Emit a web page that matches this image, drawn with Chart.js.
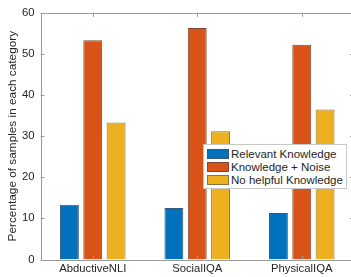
<!DOCTYPE html>
<html>
<head>
<meta charset="utf-8">
<script src="https://cdn.jsdelivr.net/npm/chart.js@4"></script>
<style>
html,body{margin:0;padding:0;background:#fff;overflow:hidden;width:351px;height:277px;}
#wrap{position:relative;width:358px;height:277px;}
#legend{position:absolute;left:203px;top:144px;width:144px;height:45px;background:#fff;border:1px solid #c8c8c8;box-sizing:border-box;font-family:"Liberation Sans",Arial,sans-serif;font-size:11.5px;color:#262626;padding-top:2px;}
#legend .row{display:flex;align-items:center;height:13.3px;}
#legend .sw{width:22px;height:10px;margin-left:3px;margin-right:2px;box-sizing:border-box;border:1px solid #555;}
</style>
</head>
<body>
<div id="wrap">
<canvas id="c" width="358" height="277"></canvas>
<div id="legend"></div>
</div>
<script>
const categories = ["AbductiveNLI", "SocialIQA", "PhysicalIQA"];
const seriesNames = ["Relevant Knowledge", "Knowledge + Noise", "No helpful Knowledge"];
const relevantKnowledge = [13.3, 12.5, 11.3];
const knowledgeNoise = [53.3, 56.3, 52.2];
const noHelpfulKnowledge = [33.3, 31.2, 36.5];
const yTicks = [0, 10, 20, 30, 40, 50, 60];

const colors = ["#0072BD", "#D95319", "#EDB120"];
const edges = ["#3a5a78", "#7a4a34", "#8a7440"];
const seriesValues = [relevantKnowledge, knowledgeNoise, noHelpfulKnowledge];

const font = "'Liberation Sans', Arial, sans-serif";
const axisColor = "#262626";
const lineColor = "#9a9a9a";

const tickPlugin = {
  id: 'matlabAxes',
  afterDatasetsDraw(chart) {
    const ctx = chart.ctx;
    const a = chart.chartArea;
    const xs = chart.scales.x, ys = chart.scales.y;
    ctx.save();
    ctx.strokeStyle = lineColor;
    ctx.lineWidth = 1;
    ctx.beginPath();
    ys.ticks.forEach(t => {
      const y = Math.round(ys.getPixelForValue(t.value)) + 0.5;
      ctx.moveTo(a.left, y); ctx.lineTo(a.left + 4, y);
      ctx.moveTo(a.right, y); ctx.lineTo(a.right - 4, y);
    });
    xs.ticks.forEach((t, i) => {
      const x = Math.round(xs.getPixelForTick(i)) + 0.5;
      ctx.moveTo(x, a.bottom); ctx.lineTo(x, a.bottom - 4);
      ctx.moveTo(x, a.top); ctx.lineTo(x, a.top + 4);
    });
    ctx.stroke();
    ctx.beginPath();
    ctx.rect(Math.round(a.left) + 0.5, Math.round(a.top) + 0.5, Math.round(a.right - a.left), Math.round(a.bottom - a.top));
    ctx.stroke();
    ctx.restore();
  }
};

new Chart(document.getElementById('c'), {
  type: 'bar',
  data: {
    labels: categories,
    datasets: seriesNames.map((n, i) => ({
      label: n,
      data: seriesValues[i],
      backgroundColor: colors[i],
      borderColor: edges[i],
      borderWidth: 1,
      categoryPercentage: 0.67,
      barPercentage: 0.81
    }))
  },
  options: {
    responsive: false,
    animation: false,
    devicePixelRatio: 1,
    layout: { padding: { top: 10, right: 4, bottom: 0, left: 0 } },
    plugins: { legend: { display: false }, tooltip: { enabled: false } },
    scales: {
      x: {
        grid: { display: false, drawTicks: false },
        border: { display: false },
        ticks: { color: axisColor, font: { family: font, size: 11.3 }, padding: 3, maxRotation: 0 },
        afterFit(s) { s.height = 17.5; }
      },
      y: {
        min: 0, max: 60,
        afterBuildTicks(s) { s.ticks = yTicks.map(v => ({ value: v })); },
        grid: { display: false, drawTicks: false },
        border: { display: false },
        ticks: { color: axisColor, font: { family: font, size: 11.3 }, padding: 6 },
        title: { display: true, text: 'Percentage of samples in each category', color: axisColor, font: { family: font, size: 11.8 }, padding: { top: 5.5, bottom: 0 } },
        afterFit(s) { s.width = 40.5; }
      }
    }
  },
  plugins: [tickPlugin]
});

const leg = document.getElementById('legend');
seriesNames.forEach((n, i) => {
  const r = document.createElement('div'); r.className = 'row';
  const sw = document.createElement('div'); sw.className = 'sw';
  sw.style.background = colors[i]; sw.style.borderColor = edges[i];
  const tx = document.createElement('span'); tx.textContent = n;
  r.appendChild(sw); r.appendChild(tx); leg.appendChild(r);
});
</script>
</body>
</html>
